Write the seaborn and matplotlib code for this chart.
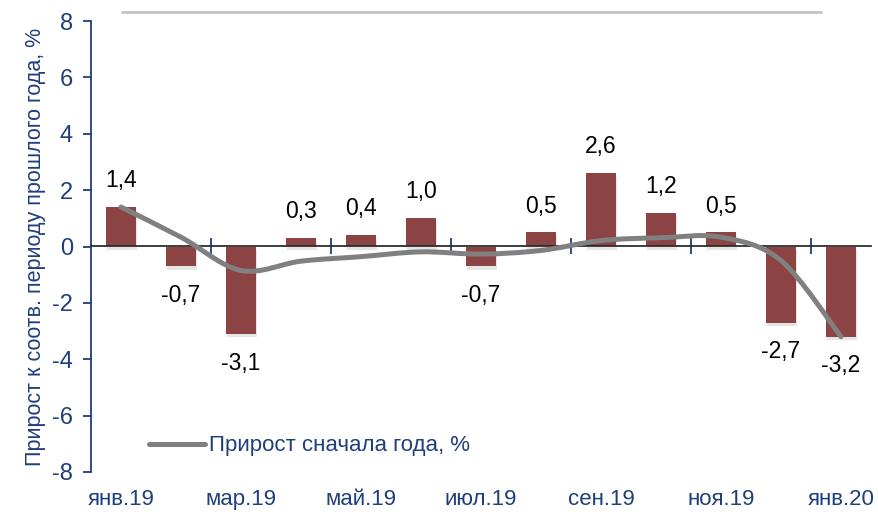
import numpy as np
import pandas as pd
import matplotlib
matplotlib.use("Agg")
import matplotlib.pyplot as plt
import seaborn as sns
from matplotlib.path import Path
from matplotlib.patches import PathPatch
from matplotlib.lines import Line2D
import matplotlib.patheffects as pe

months = ["янв.19", "фев.19", "мар.19", "апр.19", "май.19", "июн.19", "июл.19",
          "авг.19", "сен.19", "окт.19", "ноя.19", "дек.19", "янв.20"]
yoy_growth = [1.4, -0.7, -3.1, 0.3, 0.4, 1.0, -0.7, 0.5, 2.6, 1.2, 0.5, -2.7, -3.2]
ytd_growth = [1.4, 0.33, -0.85, -0.52, -0.36, -0.19, -0.27, -0.14, 0.21, 0.31, 0.33, -0.5, -3.2]
shown_ticks = [0, 2, 4, 6, 8, 10, 12]
y_ticks = [-8, -6, -4, -2, 0, 2, 4, 6, 8]

NAVY = "#1F3E7C"
BAR = "#8B4343"
LINE = "#808080"

sns.set_theme(style="white")
plt.rcParams["font.family"] = ["Liberation Sans", "DejaVu Sans"]

fig = plt.figure(figsize=(8.79, 5.14), dpi=100)
ax = fig.add_axes([91/879, 1-472/514, 780/879, 451/514])

df = pd.DataFrame({"month": months, "value": yoy_growth})
sns.barplot(data=df, x="month", y="value", color=BAR, saturation=1, width=0.5, ax=ax, zorder=2)
for p in ax.patches:
    p.set_edgecolor("none")
    p.set_path_effects([pe.SimplePatchShadow(offset=(0.5, -2.5), alpha=0.15, shadow_rgbFace="#555555"), pe.Normal()])

# smoothed line (Excel-like Bezier smoothing through the data points)
xs = np.arange(len(ytd_growth), dtype=float)
ys = np.array(ytd_growth, dtype=float)
verts = [(xs[0], ys[0])]
codes = [Path.MOVETO]
n = len(xs)
for i in range(n - 1):
    i0 = max(i - 1, 0)
    i3 = min(i + 2, n - 1)
    c1 = (xs[i] + (xs[i+1] - xs[i0]) / 6, ys[i] + (ys[i+1] - ys[i0]) / 6)
    c2 = (xs[i+1] - (xs[i3] - xs[i]) / 6, ys[i+1] - (ys[i3] - ys[i]) / 6)
    verts += [c1, c2, (xs[i+1], ys[i+1])]
    codes += [Path.CURVE4] * 3
patch = PathPatch(Path(verts, codes), facecolor="none", edgecolor=LINE, lw=3.6,
                  capstyle="round", zorder=4)
ax.add_patch(patch)

# data labels
for i, v in enumerate(yoy_growth):
    txt = f"{v:.1f}".replace(".", ",")
    off = 19 if v >= 0 else -21
    ax.annotate(txt, (i, v), xytext=(0, off), textcoords="offset points",
                ha="center", va="center", fontsize=16.5, color="black", zorder=5)

ax.set_xlim(-0.5, len(months) - 0.5)
ax.set_ylim(-8, 8)
ax.set_yticks(y_ticks)
ax.set_yticklabels([str(t) for t in y_ticks])
ax.set_xticks(shown_ticks)
ax.set_xticklabels([months[i] for i in shown_ticks])
ax.tick_params(axis="x", length=0, pad=12, labelsize=16, labelcolor=NAVY)
ax.tick_params(axis="y", left=True, length=6, width=1.3, color=NAVY, direction="out",
               pad=7, labelsize=17, labelcolor=NAVY)
ax.set_xlabel("")
ax.set_ylabel("Прирост к соотв. периоду прошлого года, %", fontsize=15.5, color=NAVY, labelpad=4)

for s in ["top", "right", "bottom"]:
    ax.spines[s].set_visible(False)
ax.spines["left"].set_color(NAVY)
ax.spines["left"].set_linewidth(1.3)

# horizontal category axis crossing at zero
sec = ax.secondary_xaxis(0.5)
sec.set_xticks([1.5, 3.5, 5.5, 7.5, 9.5, 11.5])
sec.set_xticklabels([])
sec.tick_params(axis="x", direction="inout", length=12, width=1.3, color=NAVY)
sec.spines["bottom"].set_color(NAVY)
sec.spines["bottom"].set_linewidth(1.3)
sec.set_zorder(3)

handle = Line2D([], [], color=LINE, lw=3.6, solid_capstyle="round")
leg = ax.legend([handle], ["Прирост сначала года, %"], loc="center left",
                bbox_to_anchor=(0.075, 0.058), frameon=False, fontsize=16,
                handlelength=2.5, handletextpad=0.2, borderpad=0, borderaxespad=0)
for t in leg.get_texts():
    t.set_color(NAVY)

fig.add_artist(Line2D([122/879, 821/879], [1-12/514, 1-12/514], transform=fig.transFigure,
                      color="#C4C4C4", lw=2))

fig.savefig("out.png", dpi=100)
